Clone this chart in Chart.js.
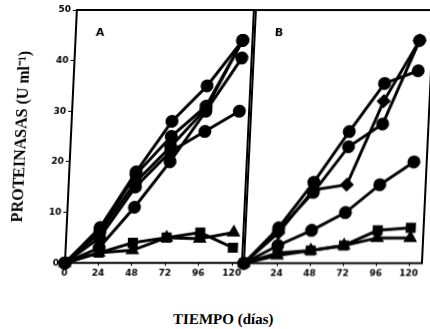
<!DOCTYPE html>
<html>
<head>
<meta charset="utf-8">
<script src="https://cdn.jsdelivr.net/npm/chart.js@4"></script>
<style>
  body { margin: 0; background: #fff; width: 430px; height: 329px; overflow: hidden; }
  /* the scanned figure leans a little to the right */
  #page { position: relative; width: 430px; height: 329px; transform: skewX(-2.7deg); transform-origin: 0 262px; }
  #wrapA { position: absolute; left: 0; top: 0; width: 250px; height: 281px; }
  #wrapB { position: absolute; left: 236px; top: 0; width: 194px; height: 281px; }
  #xtitle { position: absolute; left: 0; width: 452px; top: 311px; text-align: center;
            font: bold 15px 'Liberation Serif', serif; color: #000; }
</style>
</head>
<body>
<div id="page">
  <div id="wrapA"><canvas id="chartA"></canvas></div>
  <div id="wrapB"><canvas id="chartB"></canvas></div>
  <div id="xtitle">TIEMPO (días)</div>
</div>
<script>
// tiempo en dias
var days = [0, 24, 48, 72, 96, 120];
var yTicks = [0, 10, 20, 30, 40, 50];

// panel A
var a1 = [0, 7, 18, 28, 35, 44];
var a2 = [0, 6.5, 17.5, 25, 31, 44];
var a3 = [0, 6, 16, 23, 30.5, 44];
var a4 = [0, 5, 15, 22, 26, 30];
var a5 = [0, 3, 11, 20, 30, 40.5];
var a6 = [0, 2, 4, 5, 6, 3];
var a7 = [0, 2, 2.5, 5, 4.8, 6];

// panel B
var b1 = [0, 7, 16, 26, 35.5, 38];
var b2 = [0, 6.5, 14, 23, 27.5, 44];
var b3 = [0, 6, 14.5, 15.5, 32, 44];
var b4 = [0, 3.5, 6.5, 10, 15.5, 20];
var b5 = [0, 2, 2.5, 3.5, 6.5, 7];
var b6 = [0, 1.5, 2.5, 3.5, 5, 5];

var tickFont = { family: 'DejaVu Sans', size: 9, weight: 'bold' };

function serie(vals, style) {
    return {
        data: vals.map(function (v, i) { return { x: days[i], y: v }; }),
        borderColor: '#000',
        backgroundColor: '#000',
        borderWidth: 3,
        pointRadius: 5,
        pointStyle: style || 'circle',
        tension: 0,
        clip: false
    };
}

var frame = {
    id: 'frame',
    afterDatasetsDraw: function (chart, args, opts) {
        var a = chart.chartArea, ctx = chart.ctx;
        ctx.save();
        ctx.strokeStyle = '#000';
        ctx.lineWidth = 2;
        ctx.strokeRect(a.left, a.top, a.right - a.left, a.bottom - a.top);
        ctx.font = 'bold 11px "DejaVu Sans"';
        ctx.fillStyle = '#000';
        ctx.fillText(opts.letter, a.left + 20, a.top + 26);
        ctx.restore();
    }
};

function makeChart(id, sets, letter, showY, xmax) {
    return new Chart(document.getElementById(id).getContext('2d'), {
        type: 'line',
        data: { datasets: sets },
        options: {
            animation: false,
            maintainAspectRatio: false,
            layout: { padding: { top: 10, right: showY ? 0 : 6, left: 0, bottom: 0 } },
            plugins: {
                legend: { display: false },
                tooltip: { enabled: false },
                frame: { letter: letter }
            },
            scales: {
                x: {
                    type: 'linear',
                    min: 0,
                    max: xmax,
                    afterBuildTicks: function (s) {
                        s.ticks = days.filter(function (d) { return showY || d > 0; })
                                      .map(function (d) { return { value: d }; });
                    },
                    ticks: { font: tickFont, color: '#000', padding: 2, maxRotation: 0 },
                    grid: { display: true, drawOnChartArea: false, color: '#000', tickLength: 3 },
                    border: { display: false }
                },
                y: {
                    display: showY,
                    min: 0,
                    max: 50,
                    afterBuildTicks: function (s) {
                        s.ticks = yTicks.map(function (v) { return { value: v }; });
                    },
                    afterFit: function (s) { if (showY) s.width = 65; },
                    ticks: { font: tickFont, color: '#000', padding: 2 },
                    grid: { display: true, drawOnChartArea: false, color: '#000', tickLength: 4 },
                    border: { display: false },
                    title: {
                        display: showY,
                        text: 'PROTEINASAS (U ml\u207B\u00B9)',
                        font: { family: 'Liberation Serif', size: 16, weight: 'bold' },
                        color: '#000',
                        padding: { top: 6, bottom: 0 }
                    }
                }
            }
        },
        plugins: [frame]
    });
}

makeChart('chartA', [
    serie(a1), serie(a2), serie(a3), serie(a4), serie(a5),
    serie(a6, 'rect'), serie(a7, 'triangle')
], 'A', true, 127);

makeChart('chartB', [
    serie(b1), serie(b2), serie(b3, 'rectRot'), serie(b4),
    serie(b5, 'rect'), serie(b6, 'triangle')
], 'B', false, 129.3);
</script>
</body>
</html>
